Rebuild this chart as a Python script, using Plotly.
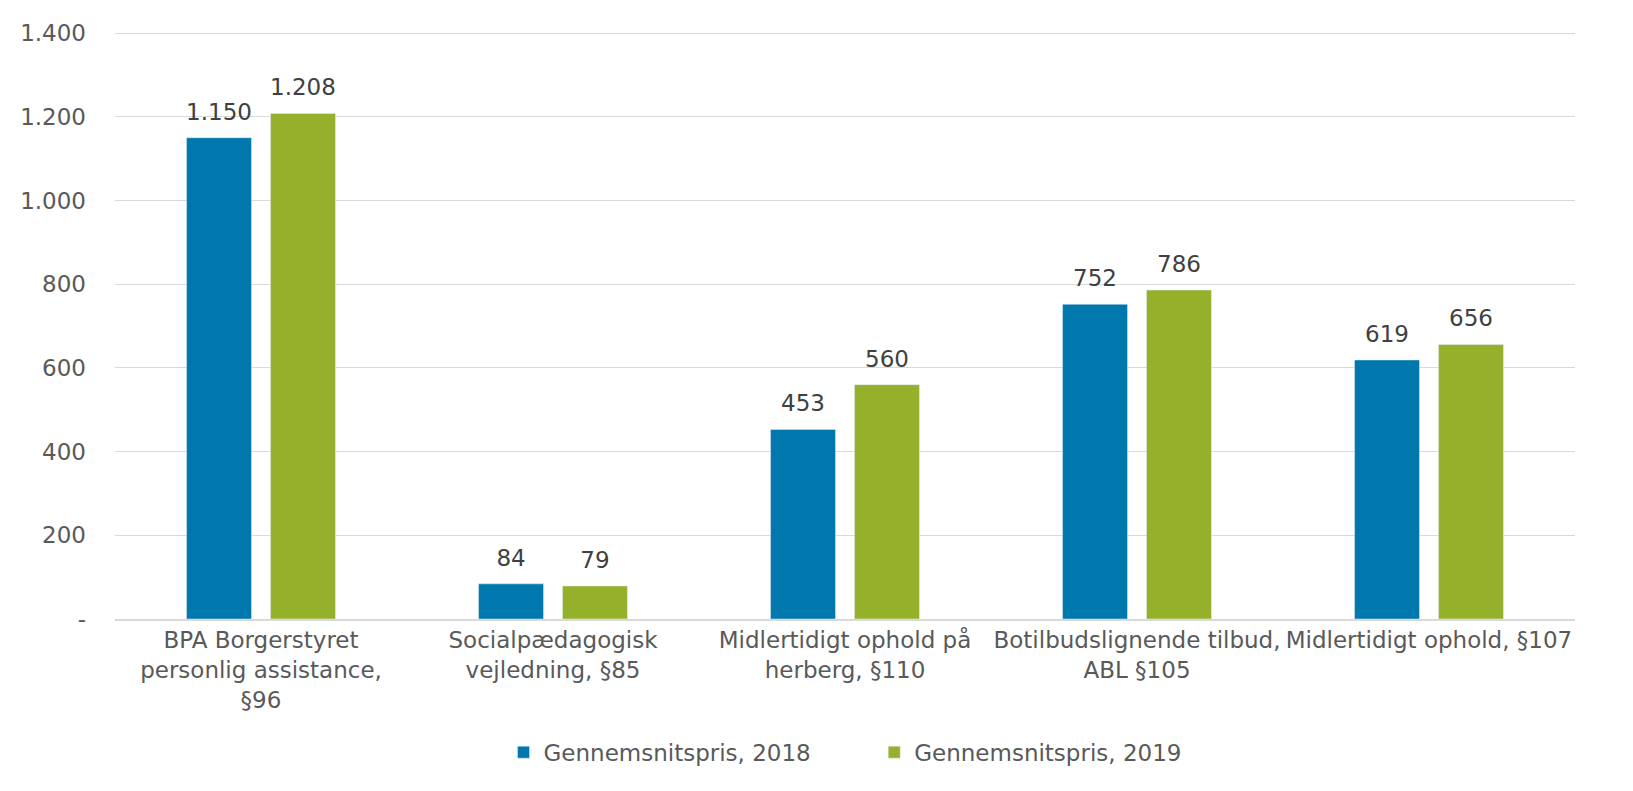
import plotly.graph_objects as go

categories = [
    "BPA Borgerstyret<br>personlig assistance,<br>§96",
    "Socialpædagogisk<br>vejledning, §85",
    "Midlertidigt ophold på<br>herberg, §110",
    "Botilbudslignende tilbud,<br>ABL §105",
    "Midlertidigt ophold, §107",
]
series_2018 = [1150, 84, 453, 752, 619]
series_2019 = [1208, 79, 560, 786, 656]
series_names = ["Gennemsnitspris, 2018", "Gennemsnitspris, 2019"]
tick_vals = [0, 200, 400, 600, 800, 1000, 1200, 1400]
tick_text = ["-", "200", "400", "600", "800", "1.000", "1.200", "1.400"]


def fmt(v):
    return f"{v:,}".replace(",", ".")


colors = ["#0078AE", "#95B12C"]
fig = go.Figure()
groups = ["a", "b"]
for i, (name, vals, col) in enumerate(zip(series_names, [series_2018, series_2019], colors)):
    legend_name = name + ("\u00a0" * 8 if i == 0 else "")
    fig.add_trace(go.Bar(
        x=categories, y=vals, name=legend_name, marker_color=col,
        offsetgroup=groups[i],
    ))
for i, vals in enumerate([series_2018, series_2019]):
    fig.add_trace(go.Scatter(
        x=categories, y=vals, mode="markers+text", offsetgroup=groups[i],
        marker=dict(size=18, opacity=0), text=[fmt(v) for v in vals],
        textposition="top center", showlegend=False, hoverinfo="skip",
        textfont=dict(family="DejaVu Sans", size=23, color="#404040"),
        cliponaxis=False,
    ))

fig.update_layout(
    width=1633, height=791,
    margin=dict(l=107, r=66, t=23, b=180),
    paper_bgcolor="white", plot_bgcolor="white",
    barmode="group", bargap=0.425, bargroupgap=0.226,
    scattermode="group", scattergap=0.425,
    showlegend=True,
    legend=dict(orientation="h", x=0.5, xanchor="center", y=-0.19, yanchor="top",
                font=dict(family="DejaVu Sans", size=23, color="#595959"),
                itemwidth=30, traceorder="normal"),
    xaxis=dict(tickfont=dict(family="DejaVu Sans", size=23, color="#595959"),
               showline=True, linecolor="#d9d9d9", linewidth=1.5, ticks=""),
    yaxis=dict(range=[0, 1405], tickvals=tick_vals, ticktext=tick_text,
               tickfont=dict(family="DejaVu Sans", size=23, color="#595959"),
               showgrid=True, gridcolor="#d9d9d9", gridwidth=1.3,
               zeroline=False, ticks="", ticklabelstandoff=28),
)

fig.write_html("out.html")
